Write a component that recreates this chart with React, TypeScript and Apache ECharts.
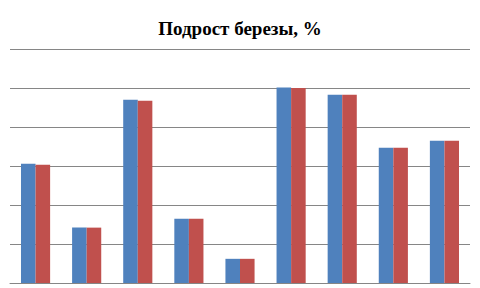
import React, { useEffect, useRef } from "react";
import * as echarts from "echarts";

const categories = ["1", "2", "3", "4", "5", "6", "7", "8", "9"];
const seriesA = [30.6, 14.2, 47.0, 16.5, 6.2, 50.1, 48.3, 34.7, 36.5];
const seriesB = [30.3, 14.2, 46.7, 16.5, 6.2, 50.0, 48.3, 34.7, 36.5];
const titleText = "Подрост березы, %";

export default function App() {
  const ref = useRef<HTMLDivElement>(null);
  useEffect(() => {
    document.body.style.margin = "0";
    const chart = echarts.init(ref.current!, null, { renderer: "svg" });
    chart.setOption({
      animation: false,
      backgroundColor: "#ffffff",
      title: {
        text: titleText,
        left: "center",
        top: 14,
        textStyle: {
          fontFamily: "Liberation Serif",
          fontWeight: "bold",
          fontSize: 19,
          color: "#000000",
        },
      },
      grid: { left: 10, right: 10, top: 49, bottom: 5, containLabel: false },
      xAxis: {
        type: "category",
        data: categories,
        axisLine: { show: true, lineStyle: { color: "#868686", width: 1 } },
        axisTick: { show: false },
        axisLabel: { show: false },
      },
      yAxis: {
        type: "value",
        min: 0,
        max: 60,
        interval: 10,
        axisLine: { show: false },
        axisTick: { show: false },
        axisLabel: { show: false },
        splitLine: { show: true, lineStyle: { color: "#868686", width: 1 } },
      },
      series: [
        {
          type: "bar",
          data: seriesA,
          itemStyle: { color: "#4F81BD" },
          barGap: "0%",
          barCategoryGap: "43%",
        },
        {
          type: "bar",
          data: seriesB,
          itemStyle: { color: "#C0504D" },
          barGap: "0%",
          barCategoryGap: "43%",
        },
      ],
    });
    return () => chart.dispose();
  }, []);
  return (
    <div
      ref={ref}
      style={{ position: "fixed", left: 0, top: 0, width: 480, height: 288 }}
    />
  );
}
